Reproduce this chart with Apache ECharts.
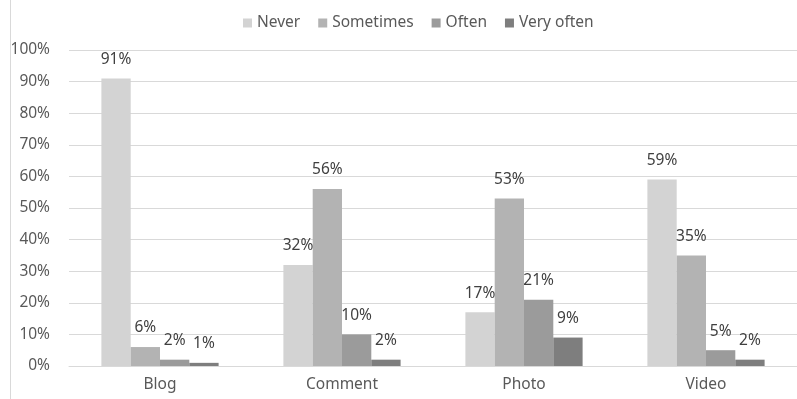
<!DOCTYPE html>
<html>
<head>
<meta charset="utf-8">
<script src="https://cdn.jsdelivr.net/npm/echarts@6/dist/echarts.min.js"></script>
<style>
  html, body { margin: 0; padding: 0; background: #fff; }
  #chart { width: 797px; height: 399px; }
</style>
</head>
<body>
<div id="chart"></div>
<script>
// Share of respondents by content type and frequency
const categories = ['Blog', 'Comment', 'Photo', 'Video'];
const never = [91, 32, 17, 59];
const sometimes = [6, 56, 53, 35];
const often = [2, 10, 21, 5];
const veryOften = [1, 2, 9, 2];
const yTicks = [0, 10, 20, 30, 40, 50, 60, 70, 80, 90, 100];

const seriesDefs = [
  { name: 'Never', data: never, color: '#d3d3d3' },
  { name: 'Sometimes', data: sometimes, color: '#b3b3b3' },
  { name: 'Often', data: often, color: '#9b9b9b' },
  { name: 'Very often', data: veryOften, color: '#7e7e7e' }
];

const font = 'Noto Sans';
const fs = 15.5;
const chart = echarts.init(document.getElementById('chart'), null, { renderer: 'canvas' });

chart.setOption({
  animation: false,
  backgroundColor: '#fff',
  textStyle: { fontFamily: font },
  graphic: [{
    type: 'line',
    shape: { x1: 10.5, y1: 0, x2: 10.5, y2: 399 },
    style: { stroke: '#d9d9d9', lineWidth: 1 }
  }],
  legend: {
    top: 10,
    left: 238,
    itemWidth: 9,
    itemHeight: 9,
    itemGap: 18,
    icon: 'rect',
    textStyle: { fontSize: fs, color: '#595959', fontFamily: font },
    data: seriesDefs.map(s => s.name)
  },
  grid: { left: 69, right: -11, top: 50, bottom: 33, containLabel: false },
  xAxis: {
    type: 'category',
    data: categories,
    axisTick: { show: false },
    axisLine: { lineStyle: { color: '#d9d9d9' } },
    axisLabel: { fontSize: fs, color: '#595959', margin: 11, fontFamily: font }
  },
  yAxis: {
    type: 'value',
    min: yTicks[0],
    max: yTicks[yTicks.length - 1],
    interval: yTicks[1] - yTicks[0],
    axisLine: { show: false },
    axisTick: { show: false },
    splitLine: { lineStyle: { color: '#d9d9d9' } },
    axisLabel: { fontSize: fs, color: '#595959', margin: 19, formatter: v => v + '%', fontFamily: font }
  },
  series: seriesDefs.map(s => ({
    type: 'bar',
    name: s.name,
    data: s.data,
    barGap: '0%',
    barCategoryGap: '35.6%',
    itemStyle: { color: s.color },
    label: {
      show: true,
      position: 'top',
      distance: 11,
      fontSize: fs,
      color: '#404040',
      fontFamily: font,
      formatter: p => p.value + '%'
    }
  }))
});
</script>
</body>
</html>
